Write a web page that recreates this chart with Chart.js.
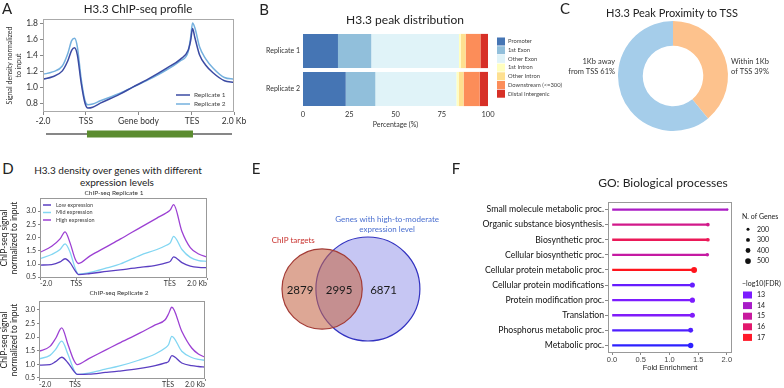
<!DOCTYPE html>
<html>
<head>
<meta charset="utf-8">
<script src="https://cdn.jsdelivr.net/npm/chart.js@4.4.1/dist/chart.umd.min.js"></script>
<style>
  body { margin: 0; background: #fff; }
  #page { position: relative; width: 784px; height: 388px; overflow: hidden; font-family: Lato, 'Open Sans', sans-serif; color: #222; }
  canvas { position: absolute; }
  .t { position: absolute; white-space: nowrap; transform: translate(-50%, -50%); line-height: 1; }
</style>
</head>
<body>
<div id="page">
  <canvas id="cA" width="260" height="145" style="left:0;top:0"></canvas>
  <canvas id="cB" width="310" height="135" style="left:260px;top:0"></canvas>
  <canvas id="cC" width="254" height="135" style="left:530px;top:0"></canvas>
  <canvas id="cD1" width="240" height="104" style="left:0;top:188px"></canvas>
  <canvas id="cD2" width="240" height="96" style="left:0;top:292px"></canvas>
  <canvas id="cE" width="230" height="178" style="left:230px;top:200px"></canvas>
  <canvas id="cF" width="324" height="218" style="left:460px;top:170px"></canvas>

  <div class="t" style="left:7px;top:8px;font-size:15px">A</div>
  <div class="t" style="left:138px;top:9px;font-size:11.5px">H3.3 ChIP-seq profile</div>
  <div class="t" style="left:264px;top:9px;font-size:15px">B</div>
  <div class="t" style="left:405px;top:20px;font-size:12px">H3.3 peak distribution</div>
  <div class="t" style="left:565px;top:8px;font-size:15px">C</div>
  <div class="t" style="left:672px;top:12px;font-size:11px">H3.3 Peak Proximity to TSS</div>
  <div class="t" style="left:8px;top:168px;font-size:15px">D</div>
  <div class="t" style="left:118px;top:170px;font-size:10px">H3.3 density over genes with different</div>
  <div class="t" style="left:117px;top:182px;font-size:10px">expression levels</div>
  <div class="t" style="left:114px;top:193px;font-size:6.5px;color:#333">ChIP-seq Replicate 1</div>
  <div class="t" style="left:119px;top:293px;font-size:6.5px;color:#333">ChIP-seq Replicate 2</div>
  <div class="t" style="left:256px;top:168px;font-size:15px">E</div>
  <div class="t" style="left:456px;top:168px;font-size:15px">F</div>
  <div class="t" style="left:663px;top:183px;font-size:12px">GO: Biological processes</div>
</div>
<script>
// ---- A: H3.3 ChIP-seq profile (x: 0 = -2 kb, TSS, TES, 100 = +2 kb)
const profileX = [0, 5, 10, 13, 15, 16.5, 18, 20, 22, 23.5, 26, 30, 40, 47, 55, 65, 72, 76, 77.3, 78.3, 79.5, 82, 85, 89, 95, 100];
const rep1Signal = [1.10, 1.13, 1.20, 1.33, 1.46, 1.49, 1.40, 1.05, 0.80, 0.74, 0.75, 0.80, 0.91, 1.00, 1.10, 1.24, 1.35, 1.46, 1.58, 1.73, 1.62, 1.40, 1.28, 1.18, 1.08, 1.06];
const rep2Signal = [1.16, 1.19, 1.26, 1.42, 1.58, 1.61, 1.50, 1.10, 0.83, 0.78, 0.79, 0.83, 0.92, 1.00, 1.09, 1.22, 1.33, 1.44, 1.62, 1.80, 1.74, 1.50, 1.36, 1.24, 1.12, 1.10];
const profileTickPos = [0, 22.5, 50, 78, 100];
const profileTickLabels = ['-2.0', 'TSS', 'Gene body', 'TES', '2.0 Kb'];
const profileYTicks = [0.8, 1.0, 1.2, 1.4, 1.6, 1.8];

// ---- B: peak distribution (% of peaks per feature)
const replicateNames = ['Replicate 1', 'Replicate 2'];
const peakFeatures = ['Promoter', '1st Exon', 'Other Exon', '1st Intron', 'Other Intron', 'Downstream (<=300)', 'Distal Intergenic'];
const rep1Share = [18.9, 18.0, 47.4, 0.9, 2.7, 8.0, 4.1];
const rep2Share = [23.1, 16.0, 43.8, 1.2, 2.7, 8.7, 4.5];
const featureColors = ['#4575b4', '#91bfdb', '#e0f3f8', '#ffffbf', '#fee090', '#fc8d59', '#d73027'];

// ---- C: proximity to TSS
const proximityNames = [['Within 1Kb', 'of TSS'], ['1Kb away', 'from TSS']];
const proximityPct = [39, 61];

// ---- D: density by expression level
const densX1 = [0, 7, 12, 15, 18, 21, 23, 30, 40, 48, 60, 70, 76, 78, 80, 85, 90, 95, 100];
const rep1High = [1.44, 1.67, 1.95, 2.22, 1.80, 1.20, 1.02, 1.31, 1.66, 1.94, 2.38, 2.74, 2.95, 3.05, 3.25, 2.23, 1.62, 1.38, 1.27];
const rep1Mid = [1.20, 1.36, 1.55, 1.76, 1.45, 0.85, 0.62, 0.68, 0.85, 1.00, 1.33, 1.55, 1.72, 1.80, 2.05, 1.55, 1.25, 1.13, 1.10];
const rep1Low = [0.96, 0.98, 1.08, 1.20, 1.05, 0.75, 0.60, 0.64, 0.72, 0.78, 0.87, 0.96, 1.05, 1.10, 1.27, 1.05, 0.92, 0.87, 0.86];
const densX2 = [0, 6.6, 10, 13.7, 17.5, 21, 23, 30, 40, 48, 60, 70, 76, 78, 80, 86, 92, 96, 100];
const rep2High = [1.48, 1.66, 1.95, 2.34, 1.72, 1.15, 0.99, 1.21, 1.52, 1.77, 2.13, 2.45, 2.64, 2.85, 3.10, 2.22, 1.60, 1.38, 1.26];
const rep2Mid = [1.20, 1.33, 1.55, 1.85, 1.36, 0.80, 0.63, 0.68, 0.82, 0.93, 1.15, 1.38, 1.60, 1.72, 2.03, 1.48, 1.25, 1.18, 1.15];
const rep2Low = [0.97, 0.99, 1.10, 1.26, 1.05, 0.75, 0.63, 0.64, 0.70, 0.75, 0.84, 0.95, 1.05, 1.10, 1.32, 1.05, 0.95, 0.92, 0.90];
const densTickPos = [0, 21.7, 77.7, 100];
const densTickLabels = ['-2.0', 'TSS', 'TES', '2.0 Kb'];
const densYTicks = [0.5, 1.0, 1.5, 2.0, 2.5, 3.0];
const expressionNames = ['Low expression', 'Mid expression', 'High expression'];

// ---- E: Venn counts (chip only, shared, genes only)
const vennCounts = [2879, 2995, 6871];
const vennNames = [['ChIP targets'], ['Genes with high-to-moderate', 'expression level']];

// ---- F: GO biological processes
const goTerms = ['Small molecule metabolic proc.', 'Organic substance biosynthesis.', 'Biosynthetic proc.', 'Cellular biosynthetic proc.',
  'Cellular protein metabolic proc.', 'Cellular protein modifications', 'Protein modification proc.', 'Translation',
  'Phosphorus metabolic proc.', 'Metabolic proc.'];
const goFold = [2.01, 1.67, 1.67, 1.66, 1.43, 1.40, 1.40, 1.40, 1.37, 1.37];
const goGenes = [120, 270, 280, 260, 520, 430, 440, 430, 420, 470];
const goFdr = [14.1, 15.4, 16.3, 14.9, 17.2, 12.8, 13.0, 13.1, 12.6, 12.3];
const goXTicks = [0, 0.5, 1.0, 1.5, 2.0];
const geneKey = [200, 300, 400, 500];
const fdrKey = [13, 14, 15, 16, 17];

// colour ramp for -log10(FDR)
const fdrStops = [12.2, 13, 14, 15, 16, 17, 17.4];
const fdrStopColors = ['#2222ff', '#7c1cff', '#a81cc8', '#c81a9e', '#e2186c', '#ff1a2a', '#ff0d0d'];

Chart.defaults.font.family = "Lato, 'Open Sans', sans-serif";
Chart.defaults.color = '#333';

function xy(xs, ys) {
  return xs.map((x, i) => ({ x: x, y: ys[i] }));
}

function hexRgb(h) {
  return [1, 3, 5].map(i => parseInt(h.substr(i, 2), 16));
}

function fdrColor(v) {
  let i = 0;
  while (i < fdrStops.length - 2 && v > fdrStops[i + 1]) i++;
  const t = Math.min(1, Math.max(0, (v - fdrStops[i]) / (fdrStops[i + 1] - fdrStops[i])));
  const a = hexRgb(fdrStopColors[i]), b = hexRgb(fdrStopColors[i + 1]);
  const c = a.map((ch, k) => Math.round(ch + (b[k] - ch) * t));
  return 'rgb(' + c.join(',') + ')';
}

function geneRadius(n) {
  return 0.6 + n * 0.0045;
}

function base(pad) {
  return {
    responsive: false,
    animation: false,
    devicePixelRatio: 1,
    layout: { padding: pad },
    events: []
  };
}

const framePlugin = {
  id: 'frame',
  afterDatasetsDraw(chart, args, opts) {
    if (!opts.color) return;
    const a = chart.chartArea, ctx = chart.ctx;
    ctx.save();
    ctx.strokeStyle = opts.color;
    ctx.lineWidth = 1;
    ctx.strokeRect(Math.round(a.left) + 0.5, Math.round(a.top) + 0.5, Math.round(a.width) - 1, Math.round(a.height) - 1);
    ctx.restore();
  }
};
Chart.register(framePlugin);

const lineKeyPlugin = {
  id: 'lineKey',
  afterDraw(chart, args, o) {
    const ctx = chart.ctx;
    ctx.save();
    ctx.font = o.size + "px Lato, 'Open Sans', sans-serif";
    ctx.textBaseline = 'middle';
    chart.data.datasets.forEach((ds, i) => {
      const y = o.y + i * o.dy;
      ctx.strokeStyle = ds.borderColor;
      ctx.lineWidth = 1.5;
      ctx.beginPath();
      ctx.moveTo(o.x, y);
      ctx.lineTo(o.x + o.len, y);
      ctx.stroke();
      ctx.fillStyle = '#444';
      ctx.fillText(ds.label, o.x + o.len + o.gap, y);
    });
    ctx.restore();
  }
};

const geneBarPlugin = {
  id: 'geneBar',
  afterDraw(chart, args, o) {
    const x = chart.scales.x, ctx = chart.ctx;
    ctx.save();
    ctx.strokeStyle = '#111';
    ctx.lineWidth = 1.2;
    ctx.beginPath();
    ctx.moveTo(x.getPixelForValue(profileTickPos[0]) + 3, o.y);
    ctx.lineTo(x.getPixelForValue(profileTickPos[4]) - 2, o.y);
    ctx.stroke();
    const x0 = x.getPixelForValue(profileTickPos[1]) + 1;
    const x1 = x.getPixelForValue(profileTickPos[3]) + 1;
    ctx.fillStyle = '#5b8c2f';
    ctx.fillRect(x0, o.y - 3.5, x1 - x0, 7);
    ctx.restore();
  }
};

// ---------- A
new Chart(document.getElementById('cA'), {
  type: 'line',
  data: {
    datasets: [
      { label: 'Replicate 1', data: xy(profileX, rep1Signal), borderColor: '#3b4ba3', borderWidth: 1.5 },
      { label: 'Replicate 2', data: xy(profileX, rep2Signal), borderColor: '#74b0de', borderWidth: 1.5 }
    ]
  },
  options: {
    ...base({ left: 0, top: 19, right: 26, bottom: 0 }),
    elements: { point: { radius: 0 }, line: { cubicInterpolationMode: 'monotone' } },
    scales: {
      x: {
        type: 'linear', min: 0, max: 100,
        afterFit: s => { s.height = 33; },
        afterBuildTicks: s => { s.ticks = profileTickPos.map(v => ({ value: v })); },
        ticks: { autoSkip: false, maxRotation: 0, padding: 1, font: { size: 8.5 }, color: '#333', callback: (v, i) => profileTickLabels[i] },
        grid: { drawOnChartArea: false, tickLength: 3, color: '#888' },
        border: { display: false }
      },
      y: {
        min: 0.69, max: 1.85,
        afterFit: s => { s.width = 43; },
        afterBuildTicks: s => { s.ticks = profileYTicks.map(v => ({ value: v })); },
        ticks: { padding: 2, font: { size: 8.5 }, color: '#333', callback: v => v.toFixed(1) },
        grid: { drawOnChartArea: false, tickLength: 3, color: '#888' },
        border: { display: false },
        title: { display: true, text: ['Signal density normalized', 'to input'], font: { size: 7 }, color: '#333', padding: { top: 6 } }
      }
    },
    plugins: {
      legend: { display: false },
      tooltip: { enabled: false },
      frame: { color: '#aaa' },
      lineKey: { x: 176, y: 95, dy: 9, len: 14, gap: 4, size: 6.5 },
      geneBar: { y: 134 }
    }
  },
  plugins: [lineKeyPlugin, geneBarPlugin]
});

// ---------- B
const peakKeyPlugin = {
  id: 'peakKey',
  afterDraw(chart, args, o) {
    const ctx = chart.ctx;
    ctx.save();
    ctx.font = o.size + "px Lato, 'Open Sans', sans-serif";
    ctx.textBaseline = 'middle';
    chart.data.datasets.forEach((ds, i) => {
      const y = o.y + i * o.dy;
      ctx.fillStyle = ds.backgroundColor;
      ctx.fillRect(o.x, y - o.box / 2, o.box, o.box);
      ctx.fillStyle = '#444';
      ctx.fillText(ds.label, o.x + o.box + 3, y);
    });
    ctx.restore();
  }
};

new Chart(document.getElementById('cB'), {
  type: 'bar',
  data: {
    labels: replicateNames,
    datasets: peakFeatures.map((f, i) => ({
      label: f,
      data: [rep1Share[i], rep2Share[i]],
      backgroundColor: featureColors[i],
      barPercentage: 0.9,
      categoryPercentage: 1
    }))
  },
  options: {
    ...base({ left: 0, top: 32, right: 82, bottom: 0 }),
    indexAxis: 'y',
    scales: {
      x: {
        stacked: true, min: 0, max: 100,
        afterFit: s => { s.height = 27; },
        ticks: { stepSize: 25, padding: 2, font: { size: 7.5 }, color: '#333' },
        grid: { display: false, drawTicks: false },
        border: { display: false },
        title: { display: true, text: 'Percentage (%)', font: { size: 7 }, color: '#333', padding: { bottom: 6 } }
      },
      y: {
        stacked: true,
        afterFit: s => { s.width = 43; },
        ticks: { padding: 3, font: { size: 7 }, color: '#333' },
        grid: { display: false, drawTicks: false },
        border: { display: false }
      }
    },
    plugins: {
      legend: { display: false },
      tooltip: { enabled: false },
      peakKey: { x: 237, y: 41.5, dy: 8.7, box: 8, size: 5.8 }
    }
  },
  plugins: [peakKeyPlugin]
});

// ---------- C
const donutLabelPlugin = {
  id: 'donutLabel',
  afterDraw(chart, args, o) {
    const ctx = chart.ctx;
    const meta = chart.getDatasetMeta(0);
    ctx.save();
    ctx.font = o.size + "px Lato, 'Open Sans', sans-serif";
    ctx.fillStyle = '#333';
    ctx.textBaseline = 'middle';
    meta.data.forEach((arc, i) => {
      const mid = (arc.startAngle + arc.endAngle) / 2;
      const right = Math.cos(mid) > 0;
      const lines = proximityNames[i].slice();
      lines[lines.length - 1] += ' ' + proximityPct[i] + '%';
      ctx.textAlign = right ? 'left' : 'right';
      const x = arc.x + (right ? 1 : -1) * (arc.outerRadius + o.gap);
      lines.forEach((l, k) => ctx.fillText(l, x, arc.y - 14 + k * 10));
    });
    ctx.restore();
  }
};

new Chart(document.getElementById('cC'), {
  type: 'doughnut',
  data: {
    labels: proximityNames.map(n => n.join(' ')),
    datasets: [{ data: proximityPct, backgroundColor: ['#fdc28d', '#a5cdea'], borderWidth: 0 }]
  },
  options: {
    ...base({ left: 88, top: 21, right: 56, bottom: 4 }),
    cutout: '55%',
    plugins: {
      legend: { display: false },
      tooltip: { enabled: false },
      donutLabel: { gap: 3, size: 7.5 }
    }
  },
  plugins: [donutLabelPlugin]
});

// ---------- D
function densityChart(id, xs, low, mid, high, yMin, yMax, pad, yWidth, xHeight, key) {
  const plugins = {
    legend: { display: false },
    tooltip: { enabled: false },
    frame: { color: '#999' }
  };
  if (key) plugins.lineKey = key;
  return new Chart(document.getElementById(id), {
    type: 'line',
    data: {
      datasets: [
        { label: expressionNames[0], data: xy(xs, low), borderColor: '#5b3fc2', borderWidth: 1.3 },
        { label: expressionNames[1], data: xy(xs, mid), borderColor: '#82d6f2', borderWidth: 1.3 },
        { label: expressionNames[2], data: xy(xs, high), borderColor: '#9c40d3', borderWidth: 1.3 }
      ]
    },
    options: {
      ...base(pad),
      elements: { point: { radius: 0 }, line: { cubicInterpolationMode: 'monotone' } },
      scales: {
        x: {
          type: 'linear', min: 0, max: 100,
          afterFit: s => { s.height = xHeight; },
          afterBuildTicks: s => { s.ticks = densTickPos.map(v => ({ value: v })); },
          ticks: { autoSkip: false, maxRotation: 0, align: 'inner', padding: 0, font: { size: 7 }, color: '#333', callback: (v, i) => densTickLabels[i] },
          grid: { drawOnChartArea: false, tickLength: 2, color: '#888' },
          border: { display: false }
        },
        y: {
          min: yMin, max: yMax,
          afterFit: s => { s.width = yWidth; },
          afterBuildTicks: s => { s.ticks = densYTicks.map(v => ({ value: v })); },
          ticks: { padding: 2, font: { size: 7 }, color: '#333', callback: v => v.toFixed(1) },
          grid: { drawOnChartArea: false, tickLength: 2, color: '#888' },
          border: { display: false },
          title: { display: true, text: ['ChIP-seq signal', 'normalized to input'], font: { size: 8.5 }, color: '#222', padding: { top: -1 } }
        }
      },
      plugins: plugins
    },
    plugins: key ? [lineKeyPlugin] : []
  });
}

densityChart('cD1', densX1, rep1Low, rep1Mid, rep1High, 0.47, 3.5,
  { left: 0, top: 10, right: 33, bottom: 0 }, 40, 14,
  { x: 43, y: 17, dy: 7.5, len: 8, gap: 5, size: 5.5 });
densityChart('cD2', densX2, rep2Low, rep2Mid, rep2High, 0.46, 3.33,
  { left: 0, top: 9, right: 35, bottom: 0 }, 39, 9, null);

// ---------- E (area-proportional Venn drawn as bubbles)
const chipTotal = vennCounts[0] + vennCounts[1];
const geneTotal = vennCounts[1] + vennCounts[2];
const vennScale = 52 / Math.sqrt(geneTotal);
const rChip = vennScale * Math.sqrt(chipTotal);
const rGene = vennScale * Math.sqrt(geneTotal);

function lensArea(a, b, d) {
  const t1 = a * a * Math.acos((d * d + a * a - b * b) / (2 * d * a));
  const t2 = b * b * Math.acos((d * d + b * b - a * a) / (2 * d * b));
  const t3 = 0.5 * Math.sqrt((-d + a + b) * (d + a - b) * (d - a + b) * (d + a + b));
  return t1 + t2 - t3;
}

function centreDistance(a, b, target) {
  let lo = Math.abs(a - b) + 1e-6, hi = a + b - 1e-6;
  for (let i = 0; i < 60; i++) {
    const m = (lo + hi) / 2;
    if (lensArea(a, b, m) > target) lo = m; else hi = m;
  }
  return (lo + hi) / 2;
}

const vennD = centreDistance(rChip, rGene, Math.PI * vennScale * vennScale * vennCounts[1]);

const vennTextPlugin = {
  id: 'vennText',
  afterDraw(chart) {
    const ctx = chart.ctx, sx = chart.scales.x, sy = chart.scales.y;
    const cx1 = sx.getPixelForValue(-vennD / 2), cx2 = sx.getPixelForValue(vennD / 2);
    const cy = sy.getPixelForValue(0);
    ctx.save();
    ctx.textAlign = 'center';
    ctx.textBaseline = 'middle';
    ctx.fillStyle = '#1a1a1a';
    ctx.font = "11.5px Lato, 'Open Sans', sans-serif";
    ctx.fillText(String(vennCounts[0]), cx1 - rChip * 0.55, cy + 1);
    ctx.fillText(String(vennCounts[1]), ((cx2 - rGene) + (cx1 + rChip)) / 2, cy + 1);
    ctx.fillText(String(vennCounts[2]), cx2 + rGene * 0.3, cy + 1);
    ctx.font = "8px Lato, 'Open Sans', sans-serif";
    ctx.fillStyle = '#c8302c';
    ctx.fillText(vennNames[0][0], cx1 - rChip * 0.72, cy - rChip - 8);
    ctx.fillStyle = '#4a6fd0';
    vennNames[1].forEach((l, k) => ctx.fillText(l, cx2 + rGene * 0.37, cy - rGene - 18 + k * 10));
    ctx.restore();
  }
};

const venn = new Chart(document.getElementById('cE'), {
  type: 'bubble',
  data: {
    datasets: [
      { data: [{ x: -vennD / 2, y: 0, r: rChip }], backgroundColor: 'rgba(196,104,72,0.58)', borderColor: '#a33b35', borderWidth: 1.2 },
      { data: [{ x: vennD / 2, y: 0, r: rGene }], backgroundColor: 'rgba(128,128,228,0.45)', borderColor: '#3232c0', borderWidth: 1.2 }
    ]
  },
  options: {
    ...base(0),
    clip: false,
    scales: {
      x: { display: false, min: -115, max: 115 },
      y: { display: false, min: -89, max: 89 }
    },
    plugins: { legend: { display: false }, tooltip: { enabled: false } }
  },
  plugins: [vennTextPlugin]
});
// bubbles pad the chart area by their radius; rescale so one axis unit is one pixel
const vArea = venn.chartArea;
venn.options.scales.x.min = -vArea.width / 2;
venn.options.scales.x.max = vArea.width / 2;
venn.options.scales.y.min = -vArea.height / 2;
venn.options.scales.y.max = vArea.height / 2;
venn.update();

// ---------- F
const goColors = goFdr.map(fdrColor);

const goKeyPlugin = {
  id: 'goKey',
  afterDraw(chart, args, o) {
    const ctx = chart.ctx;
    ctx.save();
    ctx.font = "7px Lato, 'Open Sans', sans-serif";
    ctx.textBaseline = 'middle';
    ctx.fillStyle = '#222';
    ctx.fillText('N. of Genes', o.x, o.sizeY);
    geneKey.forEach((n, i) => {
      const y = o.sizeY + 12.3 + i * o.dy;
      ctx.fillStyle = '#111';
      ctx.beginPath();
      ctx.arc(o.x + 6, y, geneRadius(n), 0, Math.PI * 2);
      ctx.fill();
      ctx.fillStyle = '#222';
      ctx.fillText(String(n), o.x + 15, y);
    });
    ctx.fillText('\u2212log10(FDR)', o.x, o.fdrY);
    fdrKey.forEach((v, i) => {
      const y = o.fdrY + 11 + i * o.dy;
      ctx.fillStyle = fdrColor(v);
      ctx.fillRect(o.x + 1, y - 3.5, 9, 7);
      ctx.fillStyle = '#222';
      ctx.fillText(String(v), o.x + 15, y);
    });
    ctx.restore();
  }
};

new Chart(document.getElementById('cF'), {
  type: 'bar',
  data: {
    labels: goTerms,
    datasets: [
      {
        type: 'line', data: goFold, showLine: false, order: 0,
        pointRadius: goGenes.map(geneRadius), pointBackgroundColor: goColors,
        pointBorderColor: goColors, pointBorderWidth: 0
      },
      { type: 'bar', data: goFold, backgroundColor: goColors, barThickness: 1.6, order: 1 }
    ]
  },
  options: {
    ...base({ left: 0, top: 32, right: 52, bottom: 0 }),
    indexAxis: 'y',
    scales: {
      x: {
        min: -0.07, max: 2.09,
        afterFit: s => { s.height = 35; },
        afterBuildTicks: s => { s.ticks = goXTicks.map(v => ({ value: v })); },
        ticks: { padding: 0, font: { size: 7.5, family: "'Liberation Sans', Arial, sans-serif" }, color: '#444', callback: v => v.toFixed(1) },
        grid: { drawOnChartArea: false, tickLength: 2, color: '#888' },
        border: { display: false },
        title: { display: true, text: 'Fold Enrichment', font: { size: 7.5, family: "'Liberation Sans', Arial, sans-serif" }, color: '#222', padding: { bottom: 15.5 } }
      },
      y: {
        afterFit: s => { s.width = 148; },
        ticks: { padding: 1, font: { size: 8.7 }, color: '#111', autoSkip: false },
        grid: { drawOnChartArea: false, offset: false, tickLength: 3, color: '#888' },
        border: { display: false }
      }
    },
    plugins: {
      legend: { display: false },
      tooltip: { enabled: false },
      frame: { color: '#999' },
      goKey: { x: 282, sizeY: 47, fdrY: 114, dy: 10.6 }
    }
  },
  plugins: [goKeyPlugin]
});
</script>
</body>
</html>
